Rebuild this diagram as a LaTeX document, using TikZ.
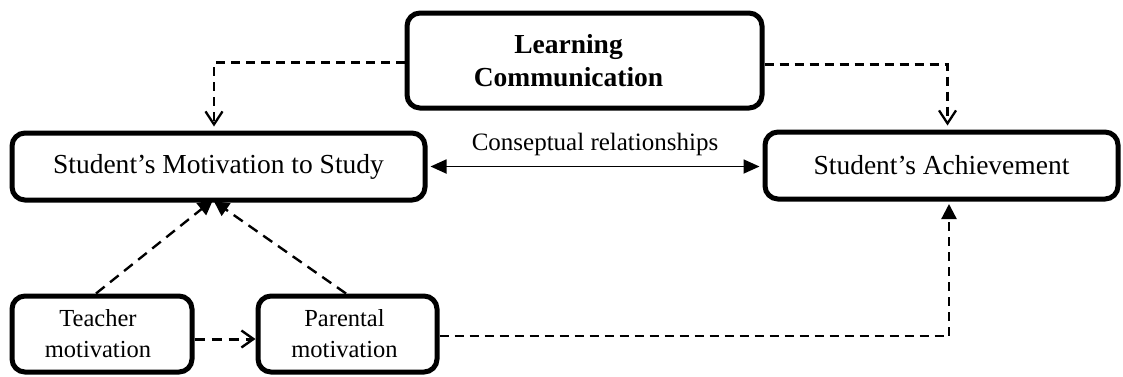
\documentclass[tikz,border=0pt]{standalone}
\usepackage{fontspec}
\setmainfont{Liberation Serif}
\usetikzlibrary{arrows.meta,calc,backgrounds}
\begin{document}
\begin{tikzpicture}[x=1pt,y=-1pt,
  box/.style={draw, line width=5pt, rounded corners=13pt, inner sep=0pt, align=center},
  bigfont/.style={font=\fontsize{27.5}{33}\selectfont},
  smallfont/.style={font=\fontsize{24.5}{31}\selectfont},
  dashline/.style={line width=2.3pt, dash pattern=on 9pt off 6pt},
  diagline/.style={line width=2.4pt, dash pattern=on 11pt off 7pt},
  openhead/.style={-{Straight Barb[length=13pt,width=17pt,line width=2.3pt]}},
  filledhead/.style={-{Triangle[length=15pt,width=15pt]}}
]
\useasboundingbox (0,0) rectangle (1123,376);

\node[box, bigfont, minimum width=355pt, minimum height=95pt] (lc) at (584.5,60.5)
  {\bfseries Learning\hspace*{32pt}\\\bfseries Communication\hspace*{32pt}};
\node[box, bigfont, minimum width=413pt, minimum height=67pt] (mot) at (218.5,166.5)
  {Student’s Motivation to Study};
\node[box, bigfont, minimum width=353pt, minimum height=67pt] (ach) at (941.5,165.5)
  {Student’s Achievement};
\node[box, smallfont, minimum width=180pt, minimum height=76pt] (tea) at (102,334)
  {Teacher\hspace*{8pt}\\motivation\hspace*{8pt}};
\node[box, smallfont, minimum width=179pt, minimum height=76pt] (par) at (347.5,334)
  {Parental\hspace*{6pt}\\motivation\hspace*{6pt}};

% top dashed connectors
\draw[dashline, openhead, shorten >=4pt] ($(lc.west)+(0,2)$) -| ([xshift=-4.5pt]mot.north);
\draw[dashline, openhead, shorten >=4pt] ($(lc.east)+(0,4)$) -| ([xshift=6pt]ach.north);

% conceptual relationship
\draw[line width=1.8pt, {Triangle[length=16pt,width=14pt]}-{Triangle[length=16pt,width=14pt]},
      shorten <=3pt, shorten >=3pt]
  (mot.east) -- (mot.east -| ach.west)
  node[midway, above=10pt, inner sep=0pt, font=\fontsize{25}{30}\selectfont] {Conseptual relationships};

% diagonal arrows into motivation (tips hidden in the border)
\begin{scope}[on background layer]
\coordinate (tipT) at ($(mot.south)+(-5.5,-2.6)$);
\coordinate (tipP) at ($(mot.south)+(-4.7,-1.4)$);
\draw[diagline, filledhead] ($(tea.north)+(-6,0)$) -- (tipT);
\draw[diagline, filledhead] ($(par.north)+(-1.5,0)$) -- (tipP);
\end{scope}

% teacher -> parental
\draw[line width=3pt, dash pattern=on 10pt off 7pt,
      -{Straight Barb[length=12pt,width=17pt,line width=2.4pt]}]
  ($(tea.east)+(0,5)$) -- ($(par.west)+(0,5)$);

% parental -> achievement
\draw[dashline, filledhead, shorten >=2.5pt] ($(par.east)+(0,2)$) -| ([xshift=7.5pt]ach.south);
\end{tikzpicture}
\end{document}
